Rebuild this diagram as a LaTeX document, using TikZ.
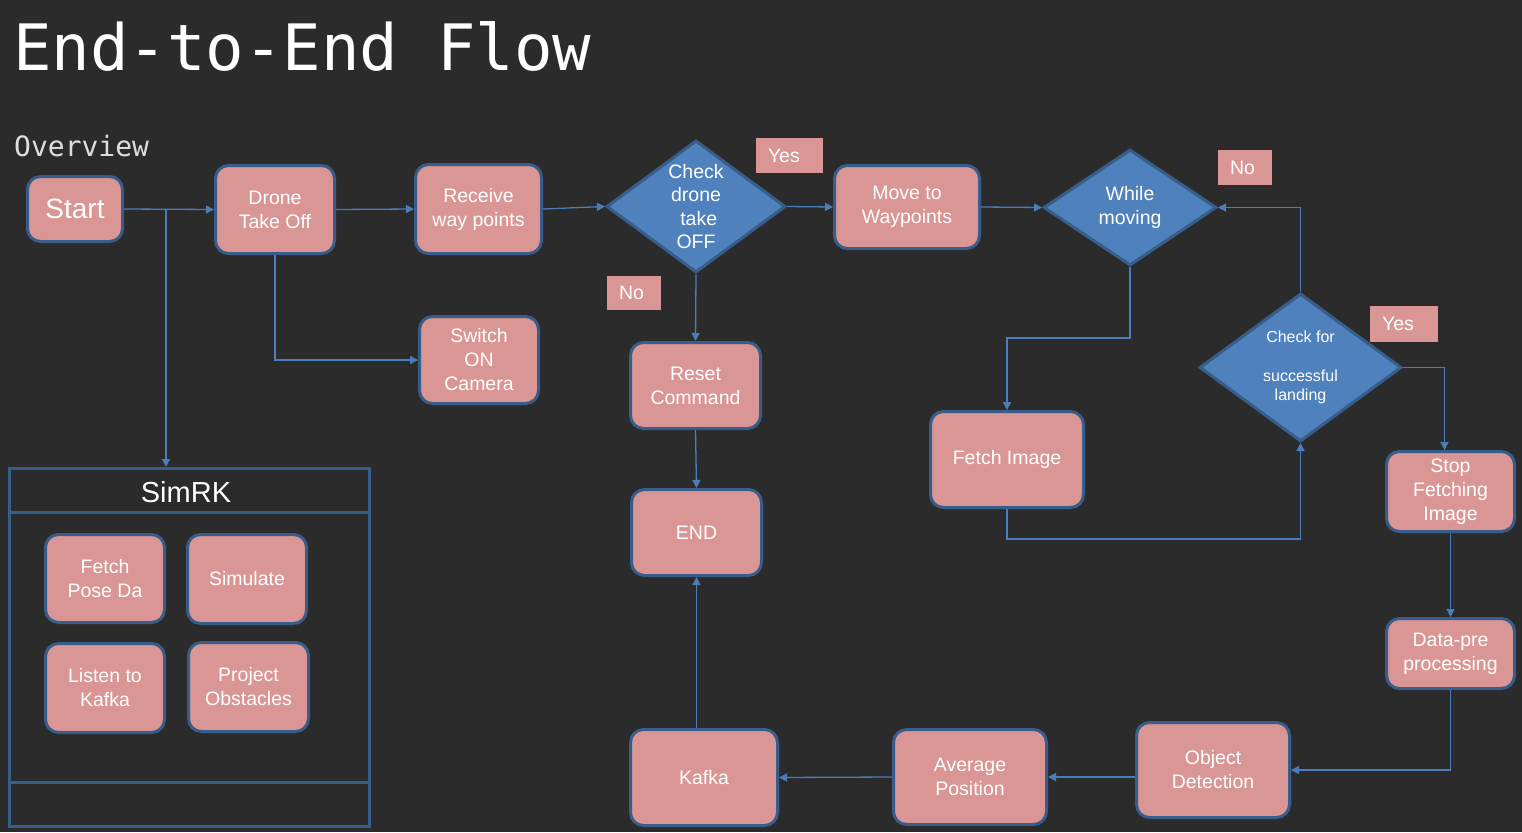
\documentclass[tikz,border=0pt]{standalone}
\usepackage{fontspec}
\setmainfont{Liberation Sans}
\newfontfamily\flowmono{DejaVu Sans Mono}
\usetikzlibrary{shapes.geometric,arrows.meta}

\begin{document}
\begin{tikzpicture}[x=1pt,y=-1pt,
  box/.style={draw=borderColor,line width=3pt,fill=boxColor,rounded corners=13pt,text=white,align=center,inner sep=2pt,font=\fontsize{19.5}{24}\selectfont},
  decision/.style={diamond,draw=borderColor,line width=3pt,fill=diaColor,text=white,align=center,inner sep=0pt,font=\fontsize{19.5}{23.6}\selectfont},
  answer/.style={fill=boxColor,text=white,align=left,inner xsep=12pt,inner ysep=0pt,font=\fontsize{19.5}{24}\selectfont},
  frame/.style={draw=borderColor,line width=3pt},
  flow/.style={draw=lineColor,line width=1.3pt,-{Triangle[length=8pt,width=8pt]}}]
\definecolor{bgColor}{RGB}{43,43,43}
\definecolor{boxColor}{RGB}{217,150,148}
\definecolor{borderColor}{RGB}{56,93,138}
\definecolor{diaColor}{RGB}{79,129,189}
\definecolor{lineColor}{RGB}{74,126,187}
\definecolor{greyText}{RGB}{222,222,222}
\path[use as bounding box,fill=bgColor] (0,0) rectangle (1522,832);

% headings
\node[text=white,anchor=base west,inner sep=0pt,font=\flowmono\fontsize{64}{64}\selectfont] (title) at (13,71) {End-to-End Flow};

\node[text=greyText,anchor=base west,inner sep=0pt,font=\flowmono\fontsize{28}{28}\selectfont] (overview) at (14,156) {Overview};

% first row
\node[box,minimum width=95,minimum height=65,font=\fontsize{28}{30}\selectfont] (start) at (75,209) {Start};

\node[box,minimum width=119,minimum height=88] (takeoff) at (275,209.5) {Drone\\Take Off};

\node[box,minimum width=126,minimum height=89] (waypts) at (478.5,209) {Receive\\way points};

\node[decision,aspect=1.35,minimum width=179,minimum height=132] (checkoff) at (696,206.5) {Check\\drone\\\ take\\OFF};

\node[box,minimum width=145,minimum height=83] (move) at (907,207) {Move to\\Waypoints};

\node[decision,aspect=1.48,minimum width=173,minimum height=116] (moving) at (1130,207.5) {While\\moving};

\node[answer,text width=43,minimum height=35] (yesoff) at (789.5,155.5) {Yes};

\node[answer,text width=30,minimum height=34] (nooff) at (634,293) {No};

\node[answer,text width=30,minimum height=35] (nomoving) at (1245,167.5) {No};

\node[answer,text width=44,minimum height=36] (yesland) at (1404,324) {Yes};

% middle
\node[box,minimum width=119,minimum height=87] (switchcam) at (479,360) {Switch\\ON\\Camera};

\node[box,minimum width=130,minimum height=86] (reset) at (695.5,385.5) {Reset\\Command};

\node[box,minimum width=130,minimum height=86] (endnode) at (696.5,532.5) {END};

\node[box,minimum width=153,minimum height=96] (fetchimg) at (1007,459.5) {Fetch Image};

\node[decision,aspect=1.36,minimum width=202,minimum height=148,font=\fontsize{16}{19.5}\selectfont] (landing) at (1300.5,367.5) {Check for\\[19.5pt]successful\\landing};

\node[box,minimum width=128,minimum height=80] (stopfetch) at (1450.5,491.5) {Stop\\Fetching\\Image};

\node[box,minimum width=128,minimum height=70] (prep) at (1450.5,653.5) {Data-pre\\processing};

% bottom row
\node[box,minimum width=153,minimum height=95] (objdet) at (1213,770) {Object\\Detection};

\node[box,minimum width=153,minimum height=95] (avgpos) at (970,777) {Average\\Position};

\node[box,minimum width=147,minimum height=96] (kafka) at (704,777.5) {Kafka};

% SimRK
\node[frame,minimum width=360,minimum height=358] (simrk) at (189.5,647.5) {};

\draw[frame] (9.5,512) -- (369.5,512);

\draw[frame] (9.5,782) -- (369.5,782);

\node[text=white,font=\fontsize{29}{30}\selectfont] (simrktitle) at (186,492) {SimRK};

\node[box,minimum width=119,minimum height=88] (posedata) at (105,578.5) {Fetch\\Pose Da};

\node[box,minimum width=119,minimum height=89] (simulate) at (247,579) {Simulate};

\node[box,minimum width=119,minimum height=89] (listen) at (105,688) {Listen to\\Kafka};

\node[box,minimum width=120,minimum height=89] (obstacles) at (248.5,687) {Project\\Obstacles};

% connectors
\coordinate (split) at (166,209);

\draw[flow] (start.east) -- (takeoff.west);

\draw[flow] (split) -- (split |- simrk.north);

\draw[flow] (takeoff.east) -- (waypts.west);

\draw[flow] (takeoff.south) |- (switchcam.west);

\draw[flow] (waypts.east) -- (checkoff.west);

\draw[flow] (checkoff.east) -- (move.west);

\draw[flow] (checkoff.south) -- (reset.north);

\draw[flow] (reset.south) -- (endnode.north);

\draw[flow] (move.east) -- (moving.west);

\draw[flow] (moving.south) -- ++(0,71) -| (fetchimg.north);

\draw[flow] (fetchimg.south) -- ++(0,30) -| (landing.south);

\draw[flow] (landing.north) |- (moving.east);

\draw[flow] (landing.east) -| ([xshift=-6pt]stopfetch.north);

\draw[flow] (stopfetch.south) -- (prep.north);

\draw[flow] (prep.south) |- (objdet.east);

\draw[flow] (avgpos.east -| objdet.west) -- (avgpos.east);

\draw[flow] (avgpos.west) -- (kafka.east);

\draw[flow] (endnode.south |- kafka.north) -- (endnode.south);
\end{tikzpicture}
\end{document}
